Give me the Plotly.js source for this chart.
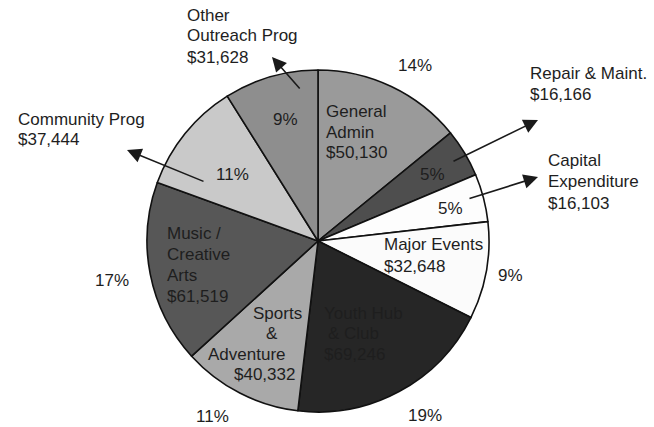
<!DOCTYPE html>
<html>
<head>
<meta charset="utf-8">
<script src="https://cdn.plot.ly/plotly-3.0.1.min.js"></script>
<style>html,body{margin:0;padding:0;background:#fff;}#chart{width:654px;height:427px;}</style>
</head>
<body>
<div id="chart"></div>
<script>
const categories = ["General Admin", "Repair & Maint.", "Capital Expenditure", "Major Events", "Youth Hub & Club", "Sports & Adventure", "Music / Creative Arts", "Community Prog", "Other Outreach Prog"];
const values = [50130, 16166, 16103, 32648, 69246, 40332, 61519, 37444, 31628];
const valueLabels = ["$50,130", "$16,166", "$16,103", "$32,648", "$69,246", "$40,332", "$61,519", "$37,444", "$31,628"];
const percentLabels = ["14%", "5%", "5%", "9%", "19%", "11%", "17%", "11%", "9%"];
const colors = ["#9a9a9a", "#4e4e4e", "#fdfdfd", "#fbfbfb", "#262626", "#a9a9a9", "#575757", "#c9c9c9", "#8e8e8e"];

const W = 654, H = 427;
const cx = 318, cy = 241, R = 171;
const px = x => x / W;
const py = y => 1 - y / H;
const FONT = {family: "Liberation Sans, Arial, sans-serif", size: 17, color: "#1e1e1e"};

const annotations = [];
function txt(text, x, y, xanchor) {
  annotations.push({text: text, x: px(x), y: py(y), xref: "paper", yref: "paper",
    xanchor: xanchor || "left", yanchor: "middle", showarrow: false, font: FONT});
}
function arrow(tipX, tipY, tailX, tailY) {
  annotations.push({text: "", x: px(tipX), y: py(tipY), xref: "paper", yref: "paper",
    ax: tailX - tipX, ay: tailY - tipY, axref: "pixel", ayref: "pixel",
    showarrow: true, arrowhead: 2, arrowsize: 1.8, arrowwidth: 1.6, arrowcolor: "#1a1a1a"});
}

// Other Outreach Prog
txt("Other", 185, 15); txt("Outreach Prog", 185, 36); txt(valueLabels[8], 185, 57);
arrow(272, 57, 301, 90);
txt(percentLabels[8], 285, 120, "center");
// General Admin
txt("General", 324, 111); txt("Admin", 324, 132); txt(valueLabels[0], 324, 153);
txt(percentLabels[0], 415, 66, "center");
// Repair
txt("Repair &amp; Maint.", 528, 74); txt(valueLabels[1], 528, 94);
arrow(538, 120, 452, 162);
txt(percentLabels[1], 432, 174, "center");
// Capital
txt("Capital", 546, 160); txt("Expenditure", 546, 181); txt(valueLabels[2], 546, 203);
arrow(538, 177, 468, 199);
txt(percentLabels[2], 450, 208, "center");
// Major Events
txt("Major Events", 382, 244); txt(valueLabels[3], 382, 266);
txt(percentLabels[3], 510, 275, "center");
// Youth Hub
txt("Youth Hub", 322, 313); txt("&amp; Club", 326, 333); txt(valueLabels[4], 322, 354);
txt(percentLabels[4], 425, 415, "center");
// Sports
txt("Sports", 277, 313, "center"); txt("&amp;", 272, 333, "center");
txt("Adventure", 247, 354, "center"); txt(valueLabels[5], 264, 374, "center");
txt(percentLabels[5], 212, 416, "center");
// Music
txt("Music /", 165, 233); txt("Creative", 165, 254); txt("Arts", 165, 275); txt(valueLabels[6], 165, 296);
txt(percentLabels[6], 112, 280, "center");
// Community
txt("Community Prog", 16, 120); txt(valueLabels[7], 16, 140);
arrow(127, 150, 205, 182);
txt(percentLabels[7], 232, 174, "center");

const data = [{
  type: "pie",
  labels: categories,
  values: values,
  sort: false,
  direction: "clockwise",
  rotation: 0,
  textinfo: "none",
  hoverinfo: "label+value+percent",
  marker: {colors: colors, line: {color: "#111111", width: 1.6}},
  domain: {x: [px(cx - R), px(cx + R)], y: [py(cy + R), py(cy - R)]},
  showlegend: false
}];

const layout = {
  width: W, height: H,
  margin: {l: 0, r: 0, t: 0, b: 0},
  paper_bgcolor: "#ffffff",
  plot_bgcolor: "#ffffff",
  showlegend: false,
  annotations: annotations
};

Plotly.newPlot("chart", data, layout, {displayModeBar: false, staticPlot: true});
</script>
</body>
</html>
